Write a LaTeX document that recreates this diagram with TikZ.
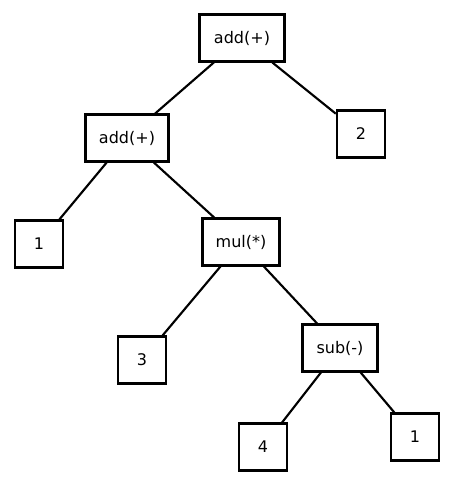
\documentclass[tikz,border=0pt]{standalone}
\usepackage{fontspec}
\setmainfont{DejaVu Sans}
\begin{document}
\begin{tikzpicture}[x=0.75pt,y=-0.75pt,font=\fontsize{12}{14}\selectfont,
  box/.style={draw,line width=1.8pt,minimum height=35pt,minimum width=36pt,inner xsep=8pt},
  edge/.style={line width=1.6pt}]
  \useasboundingbox (0,0) rectangle (460,479);
  % Operator nodes.
  \node[box,minimum width=64pt] (root) at (242,38) {add(+)};
  \node[box,minimum width=62pt] (add) at (127,138) {add(+)};
  \node[box,minimum width=58pt] (mul) at (241,242) {mul(*)};
  \node[box,minimum width=56pt] (sub) at (340,348) {sub(-)};
  % Leaves.
  \node[box] (two) at (361,134) {2};
  \node[box] (one) at (39,244) {1};
  \node[box] (three) at (142,360) {3};
  \node[box] (four) at (263,447) {4};
  \node[box] (oneb) at (415,437) {1};
  \draw[edge] (root) -- (add);
  \draw[edge] (root) -- (two);
  \draw[edge] (add) -- (one);
  \draw[edge] (add) -- (mul);
  \draw[edge] (mul) -- (three);
  \draw[edge] (mul) -- (sub);
  \draw[edge] (sub) -- (four);
  \draw[edge] (sub) -- (oneb);
\end{tikzpicture}
\end{document}
